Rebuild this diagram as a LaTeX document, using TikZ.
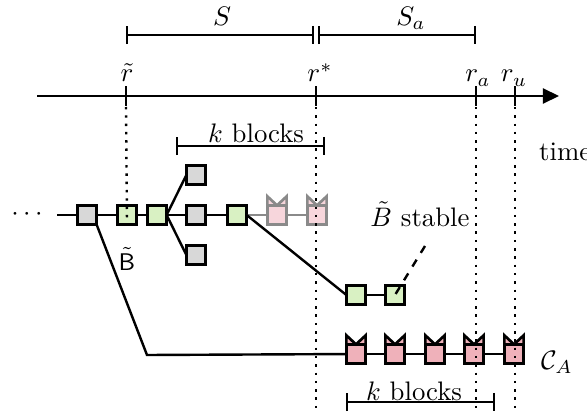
\documentclass[tikz,border=0pt]{standalone}
\usetikzlibrary{arrows.meta,calc}
\definecolor{graybl}{HTML}{D8D8D8}
\definecolor{greenbl}{HTML}{D9F1C3}
\definecolor{pinkbl}{HTML}{EFB1BA}
\definecolor{pinkfd}{HTML}{F7D6DC}
\definecolor{fadeln}{HTML}{8A8A8A}
\newcommand\myhorns[2]{\filldraw[#2, line width=1pt, line join=miter] (#1.north west) -- ++(0,-9) -- (#1.north) -- ($(#1.north east)+(0,-9)$) -- (#1.north east) -- cycle;}
\begin{document}
\begin{tikzpicture}[x=0.3735pt,y=-0.3735pt, line width=0.9pt,
  block/.style={draw, rectangle, minimum size=7.2pt, inner sep=0pt, outer sep=0pt, line width=1pt},
  gb/.style={block, fill=graybl},
  grb/.style={block, fill=greenbl},
  pb/.style={block, fill=pinkbl},
  pfb/.style={block, fill=pinkfd, draw=fadeln},
  dotline/.style={line width=0.9pt, dash pattern=on 0.9pt off 2.2pt},
  brk/.style={{Bar[width=6.8pt]}-{Bar[width=6.8pt]}},
  lbl/.style={inner sep=0pt, anchor=base},
  fadeconn/.style={draw=fadeln}
]
\useasboundingbox (0,0) rectangle (587,417);

% time axis
\coordinate (a0) at (37,96);
\coordinate (a1) at (559,96);
\draw[-{Triangle[length=6pt,width=5.6pt]}] (a0) -- (a1);
\coordinate (tr) at (126,96);
\coordinate (ts) at (316,96);
\coordinate (ta) at (476,96);
\coordinate (tu) at (515,96);
\foreach \t in {tr,ts,ta,tu} \draw ($(\t)+(0,-10)$) -- ($(\t)+(0,10)$);

\node[lbl] (lr) at (127,82) {$\tilde r$};
\node[lbl] (lrs) at (320,82) {$r^*$};
\node[lbl] (lra) at (478,82) {$r_a$};
\node[lbl] (lru) at (514,82) {$r_u$};
\node[lbl, anchor=base west] (ltime) at (538,161) {time};

% S brackets
\coordinate (s0) at (126,35);
\coordinate (s1) at (314,35);
\coordinate (s2) at (318,35);
\coordinate (s3) at (476,35);
\draw[brk] (s0) -- (s1);
\draw[brk] (s2) -- (s3);
\node[lbl] (lS) at (222,25) {$S$};
\node[lbl] (lSa) at (411,25) {$S_a$};

% k blocks brackets
\coordinate (k0) at (176,146);
\coordinate (k1) at (325,146);
\draw[brk] (k0) -- (k1);
\node[lbl] (lk1) at (256,143) {$k$ blocks};
\coordinate (k2) at (346,402);
\coordinate (k3) at (495,402);
\draw[brk] (k2) -- (k3);
\node[lbl] (lk2) at (414,400) {$k$ blocks};

% blocks
\node (dots) at (27,215) {$\cdots$};
\coordinate (st) at (57,215);
\node[gb] (b0) at (87,215) {};
\node[grb] (b1) at (127,215) {};
\node[grb] (b2) at (157,215) {};
\node[gb] (b3t) at (196,175) {};
\node[gb] (b3) at (196,215) {};
\node[gb] (b3b) at (196,255) {};
\node[grb] (b4) at (237,215) {};
\node[pfb] (f1) at (277,215) {};
\node[pfb] (f2) at (317,215) {};
\node[grb] (l1) at (356,295) {};
\node[grb] (l2) at (395,295) {};
\node[pb] (c1) at (356,354) {};
\node[pb] (c2) at (395,354) {};
\node[pb] (c3) at (435,354) {};
\node[pb] (c4) at (474,354) {};
\node[pb] (c5) at (514,354) {};
\coordinate (bend) at (147,355);

% connectors
\draw (st) -- (b0);
\draw (b0) -- (b1);
\draw (b1) -- (b2);
\draw (b2.east) -- (b3t.west);
\draw (b2) -- (b3);
\draw (b2.east) -- (b3b.west);
\draw (b3) -- (b4);
\draw[fadeconn] (b4) -- (f1);
\draw[fadeconn] (f1) -- (f2);
\draw (b4.east) -- (l1.west);
\draw (l1) -- (l2);
\draw (b0.south east) -- (bend) -- (c1);
\draw (c1) -- (c2);
\draw (c2) -- (c3);
\draw (c3) -- (c4);
\draw (c4) -- (c5);

% horns
\myhorns{f1}{fill=pinkfd, draw=fadeln}
\myhorns{f2}{fill=pinkfd, draw=fadeln}
\foreach \c in {c1,c2,c3,c4,c5} {\myhorns{\c}{fill=pinkbl, draw=black}}

% labels
\node[lbl] (lB) at (127,270) {\small $\tilde{\mathsf{B}}$};
\node[lbl] (lstab) at (420,226) {$\tilde B$ stable};
\node[lbl, anchor=base west] (lCA) at (540,369) {$\mathcal{C}_A$};
\coordinate (dsh) at (425,246);
\draw[dashed] (dsh) -- (l2.center);

% dotted time lines
\draw[dotline] ($(tr)+(0,11)$) -- ($(b1.south)+(0,-3)$);
\draw[dotline] ($(ts)+(0,11)$) -- (316,413);
\draw[dotline] ($(ta)+(0,11)$) -- (476,413);
\draw[dotline] ($(tu)+(0,11)$) -- (515,413);
\end{tikzpicture}
\end{document}
